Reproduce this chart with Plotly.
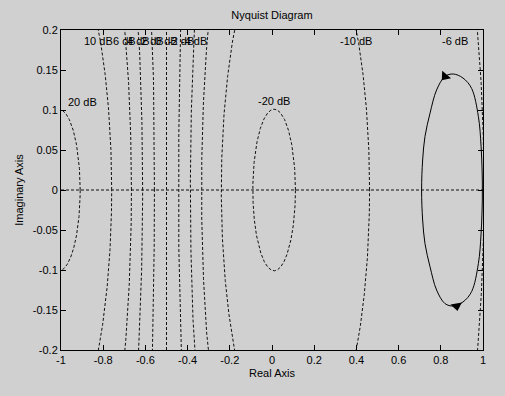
import numpy as np
import plotly.graph_objects as go

# ---- data ----
M_DB = [20, 10, 6, 4, 2, 0, -2, -4, -6, -10, -20]          # constant-gain (M) circles
X_TICKS = [-1, -0.8, -0.6, -0.4, -0.2, 0, 0.2, 0.4, 0.6, 0.8, 1]
X_TICKTEXT = ["-1", "-0.8", "-0.6", "-0.4", "-0.2", "0", "0.2", "0.4", "0.6", "0.8", "1"]
Y_TICKS = [-0.2, -0.15, -0.1, -0.05, 0, 0.05, 0.1, 0.15, 0.2]
Y_TICKTEXT = ["-0.2", "-0.15", "-0.1", "-0.05", "0", "0.05", "0.1", "0.15", "0.2"]

# Nyquist curve (closed loop)
NYQ_RE = [0.997, 0.991, 0.978, 0.946, 0.905, 0.859, 0.82, 0.78, 0.749, 0.725, 0.714, 0.709,
          0.714, 0.725, 0.749, 0.78, 0.82, 0.859, 0.905, 0.946, 0.978, 0.991, 0.997]
NYQ_IM = [0.0, 0.054, 0.092, 0.127, 0.140, 0.145, 0.142, 0.125, 0.096, 0.067, 0.0375, 0.0,
          -0.0375, -0.067, -0.096, -0.125, -0.142, -0.145, -0.140, -0.127, -0.092, -0.054, 0.0]
ARROW_RE = [0.82, 0.875]
ARROW_IM = [0.142, -0.145]

X_RANGE = [-1, 1]
Y_RANGE = [-0.2, 0.2]

FONT = dict(family="Liberation Sans, Arial, sans-serif", size=11, color="#000000")
BG = "#d0d0d0"
DASH = dict(color="#111111", width=1, dash="3px,2px")

fig = go.Figure()

annotations = []
theta = np.linspace(0, 2 * np.pi, 1441)
ymax = Y_RANGE[1]
for db in M_DB:
    label = f"{db} dB"
    if db == 0:
        xs, ys = [-0.5, -0.5], [-10, 10]
        annotations.append(dict(x=-0.5, y=ymax, text=label, xanchor="center", yanchor="top", yshift=-3))
    else:
        M = 10 ** (db / 20)
        c = -M ** 2 / (M ** 2 - 1)
        r = abs(M / (M ** 2 - 1))
        xs = c + r * np.cos(theta)
        ys = r * np.sin(theta)
        if r < ymax:
            if c < X_RANGE[0]:
                annotations.append(dict(x=X_RANGE[0] + 0.022, y=r, text=label, xanchor="left", yanchor="bottom", yshift=-1))
            else:
                annotations.append(dict(x=c, y=r, text=label, xanchor="center", yanchor="bottom", yshift=0))
        else:
            h = np.sqrt(r ** 2 - ymax ** 2)
            right = c + h
            left = c - h
            if right < X_RANGE[1] - 0.05:
                annotations.append(dict(x=right, y=ymax, text=label, xanchor="center", yanchor="top", yshift=-3))
            elif right < X_RANGE[1]:
                annotations.append(dict(x=X_RANGE[1] - 0.062, y=ymax, text=label, xanchor="right", yanchor="top", yshift=-3))
            else:
                annotations.append(dict(x=left, y=ymax, text=label, xanchor="center", yanchor="top", yshift=-3))
    fig.add_trace(go.Scatter(x=xs, y=ys, mode="lines", line=DASH, hoverinfo="skip", showlegend=False))

# real axis dashed line
fig.add_trace(go.Scatter(x=X_RANGE, y=[0, 0], mode="lines", line=DASH, hoverinfo="skip", showlegend=False))

# Nyquist curve
fig.add_trace(go.Scatter(x=NYQ_RE, y=NYQ_IM, mode="lines",
                         line=dict(color="#000000", width=1, shape="spline", smoothing=1),
                         showlegend=False))
# arrows
fig.add_trace(go.Scatter(x=ARROW_RE, y=ARROW_IM, mode="markers",
                         marker=dict(symbol="triangle-down", size=10, color="#000000",
                                     angle=[40, -10], line=dict(width=0)),
                         showlegend=False))

for a in annotations:
    a.update(showarrow=False, font=FONT, xref="x", yref="y")

axis_common = dict(showline=True, linecolor="#000000", linewidth=1, mirror="ticks",
                   ticks="inside", ticklen=5, tickcolor="#000000", tickwidth=1,
                   showgrid=False, zeroline=False, tickfont=FONT)

fig.update_layout(
    width=505, height=396,
    margin=dict(l=61, r=22, t=30, b=46),
    paper_bgcolor=BG, plot_bgcolor=BG,
    font=FONT,
    title=dict(text="Nyquist Diagram", x=(61 + 211) / 505, xanchor="center",
               y=1 - 15 / 396, yanchor="middle", font=FONT),
    xaxis=dict(range=X_RANGE, tickvals=X_TICKS, ticktext=X_TICKTEXT,
               title=dict(text="Real Axis", font=FONT, standoff=4), **axis_common),
    yaxis=dict(range=Y_RANGE, tickvals=Y_TICKS, ticktext=Y_TICKTEXT,
               title=dict(text="Imaginary Axis", font=FONT, standoff=6), **axis_common),
    annotations=annotations,
    showlegend=False,
)

fig.write_html("out.html",
               config={"displayModeBar": False},
               post_script="document.body.style.margin='0';document.body.style.background='%s';" % BG)
